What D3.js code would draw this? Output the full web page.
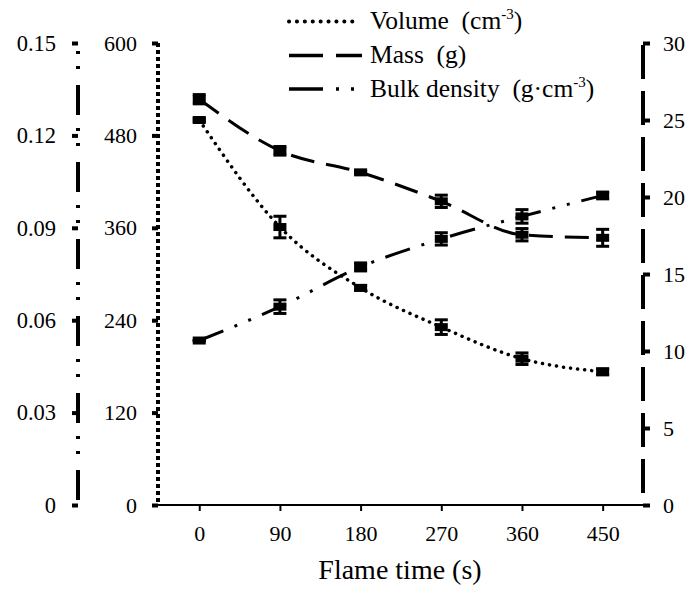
<!DOCTYPE html>
<html>
<head>
<meta charset="utf-8">
<script src="https://cdn.jsdelivr.net/npm/d3@7"></script>
<style>
  body { margin: 0; background: #fff; }
</style>
</head>
<body>
<div id="chart"></div>
<script>
// Data
const times = [0, 90, 180, 270, 360, 450];
const volume = [500, 361, 282, 231, 190, 173];
const volumeErr = [2, 14, 3, 9.5, 7.5, 4];
const mass = [26.35, 23.0, 21.6, 19.72, 17.55, 17.35];
const massErr = [0.3, 0.28, 0.1, 0.4, 0.4, 0.55];
const density = [0.0534, 0.0644, 0.0773, 0.0864, 0.0937, 0.1005];
const densityErr = [0, 0.0022, 0.0013, 0.002, 0.0022, 0.0011];

const timeTicks = [0, 90, 180, 270, 360, 450];
const volumeTicks = [0, 120, 240, 360, 480, 600];
const massTicks = [0, 5, 10, 15, 20, 25, 30];
const densityTicks = [0, 0.03, 0.06, 0.09, 0.12, 0.15];

const W = 690, H = 590;
const plotTop = 43, plotBottom = 505;
const axisOuterX = 78, axisInnerX = 158, axisRightX = 643;
const FONT = "'Liberation Serif', 'DejaVu Serif', serif";

const svg = d3.select('#chart').append('svg')
    .attr('width', W)
    .attr('height', H)
    .attr('font-family', FONT);

// Scales
const x = d3.scaleLinear().domain([-46, 495]).range([axisInnerX, axisRightX]);
const yVol = d3.scaleLinear().domain([0, 600]).range([plotBottom, plotTop]);
const yMass = d3.scaleLinear().domain([0, 30]).range([plotBottom, plotTop]);
const yDen = d3.scaleLinear().domain([0, 0.15]).range([plotBottom, plotTop]);

function styleAxis(g, fontSize, tickWidth) {
    g.attr('font-family', FONT);
    g.select('.domain').remove();
    g.selectAll('.tick line').attr('stroke', '#000').attr('stroke-width', tickWidth);
    g.selectAll('.tick text').attr('font-size', fontSize).attr('fill', '#000');
}

// Outer left axis (bulk density)
svg.append('g')
    .attr('transform', `translate(${axisOuterX},0)`)
    .call(d3.axisLeft(yDen).tickValues(densityTicks).tickSize(6).tickPadding(16)
        .tickFormat(d => d === 0 ? '0' : d3.format('.2f')(d)))
    .call(g => styleAxis(g, 22.5, 4));
svg.append('line')
    .attr('x1', axisOuterX).attr('x2', axisOuterX)
    .attr('y1', plotTop).attr('y2', plotBottom)
    .attr('stroke', '#000').attr('stroke-width', 4)
    .attr('stroke-dasharray', '30 13 3 12 3 16')
    .attr('stroke-dashoffset', 35);

// Inner left axis (volume)
svg.append('g')
    .attr('transform', `translate(${axisInnerX},0)`)
    .call(d3.axisLeft(yVol).tickValues(volumeTicks).tickSize(6).tickPadding(15))
    .call(g => styleAxis(g, 22, 4));
svg.append('line')
    .attr('x1', axisInnerX).attr('x2', axisInnerX)
    .attr('y1', plotTop).attr('y2', plotBottom)
    .attr('stroke', '#000').attr('stroke-width', 4)
    .attr('stroke-dasharray', '4 3');

// Right axis (mass)
svg.append('g')
    .attr('transform', `translate(${axisRightX},0)`)
    .call(d3.axisRight(yMass).tickValues(massTicks).tickSize(7).tickPadding(13))
    .call(g => styleAxis(g, 22, 4));
svg.append('line')
    .attr('x1', axisRightX).attr('x2', axisRightX)
    .attr('y1', plotTop + 2).attr('y2', plotBottom)
    .attr('stroke', '#000').attr('stroke-width', 4)
    .attr('stroke-dasharray', '34 12');

// Bottom axis (flame time)
svg.append('g')
    .attr('transform', `translate(0,${plotBottom})`)
    .call(d3.axisBottom(x).tickValues(timeTicks).tickSize(6).tickPadding(14))
    .call(g => styleAxis(g, 22, 2));
svg.append('line')
    .attr('x1', axisInnerX).attr('x2', axisRightX)
    .attr('y1', plotBottom).attr('y2', plotBottom)
    .attr('stroke', '#000').attr('stroke-width', 2);

svg.append('text')
    .attr('x', 400).attr('y', 579)
    .attr('text-anchor', 'middle')
    .attr('font-size', 28)
    .text('Flame time (s)');

// Series
const series = [
    { name: 'volume', values: volume, errs: volumeErr, y: yVol, dash: '0.1 7', cap: 'round', width: 3.5 },
    { name: 'mass', values: mass, errs: massErr, y: yMass, dash: '24 12', cap: 'butt', width: 3 },
    { name: 'density', values: density, errs: densityErr, y: yDen, dash: '26 12 3 12 3 12', cap: 'butt', width: 3 }
];

series.forEach(s => {
    const pts = times.map((t, i) => ({ t, v: s.values[i], e: s.errs[i] }));

    const line = d3.line()
        .x(d => x(d.t))
        .y(d => s.y(d.v))
        .curve(d3.curveMonotoneX);

    svg.append('path')
        .datum(pts)
        .attr('fill', 'none')
        .attr('stroke', '#000')
        .attr('stroke-width', s.width)
        .attr('stroke-linecap', s.cap)
        .attr('stroke-dasharray', s.dash)
        .attr('d', line);

    const g = svg.append('g').attr('class', s.name + '-points');
    const pg = g.selectAll('g').data(pts).enter().append('g');

    // error bars
    pg.append('line')
        .attr('x1', d => x(d.t)).attr('x2', d => x(d.t))
        .attr('y1', d => s.y(d.v - d.e)).attr('y2', d => s.y(d.v + d.e))
        .attr('stroke', '#000').attr('stroke-width', 3);
    pg.append('rect')
        .attr('x', d => x(d.t) - 6.5)
        .attr('y', d => s.y(d.v + d.e) - 1.5)
        .attr('width', 13).attr('height', 3);
    pg.append('rect')
        .attr('x', d => x(d.t) - 6.5)
        .attr('y', d => s.y(d.v - d.e) - 1.5)
        .attr('width', 13).attr('height', 3);
    // marker
    pg.append('rect')
        .attr('x', d => x(d.t) - 6.5)
        .attr('y', d => s.y(d.v) - 4)
        .attr('width', 13).attr('height', 8)
        .attr('fill', '#000');
});

// Legend
const legend = [
    { label: 'Volume\u00A0\u00A0(cm', sup: '-3', tail: ')', y: 21.5, dash: '0.1 7.8', cap: 'round', width: 4, x2: 358 },
    { label: 'Mass\u00A0\u00A0(g)', sup: null, tail: '', y: 55.5, dash: '34 13', cap: 'butt', width: 3.5, x2: 362 },
    { label: 'Bulk density\u00A0\u00A0(g·cm', sup: '-3', tail: ')', y: 89, dash: '34 13 3 12 3 20', cap: 'butt', width: 3.5, x2: 355 }
];

const lg = svg.append('g').attr('class', 'legend');
legend.forEach(l => {
    lg.append('line')
        .attr('x1', 289).attr('x2', l.x2)
        .attr('y1', l.y).attr('y2', l.y)
        .attr('stroke', '#000')
        .attr('stroke-width', l.width)
        .attr('stroke-linecap', l.cap)
        .attr('stroke-dasharray', l.dash);
    const t = lg.append('text')
        .attr('x', 370).attr('y', l.y + 7.5)
        .attr('font-size', 25.5);
    t.append('tspan').text(l.label);
    if (l.sup) {
        t.append('tspan').attr('font-size', 15).attr('dy', -10).text(l.sup);
        t.append('tspan').attr('dy', 10).text(l.tail);
    }
});

svg.selectAll('text').attr('font-family', FONT);
</script>
</body>
</html>
